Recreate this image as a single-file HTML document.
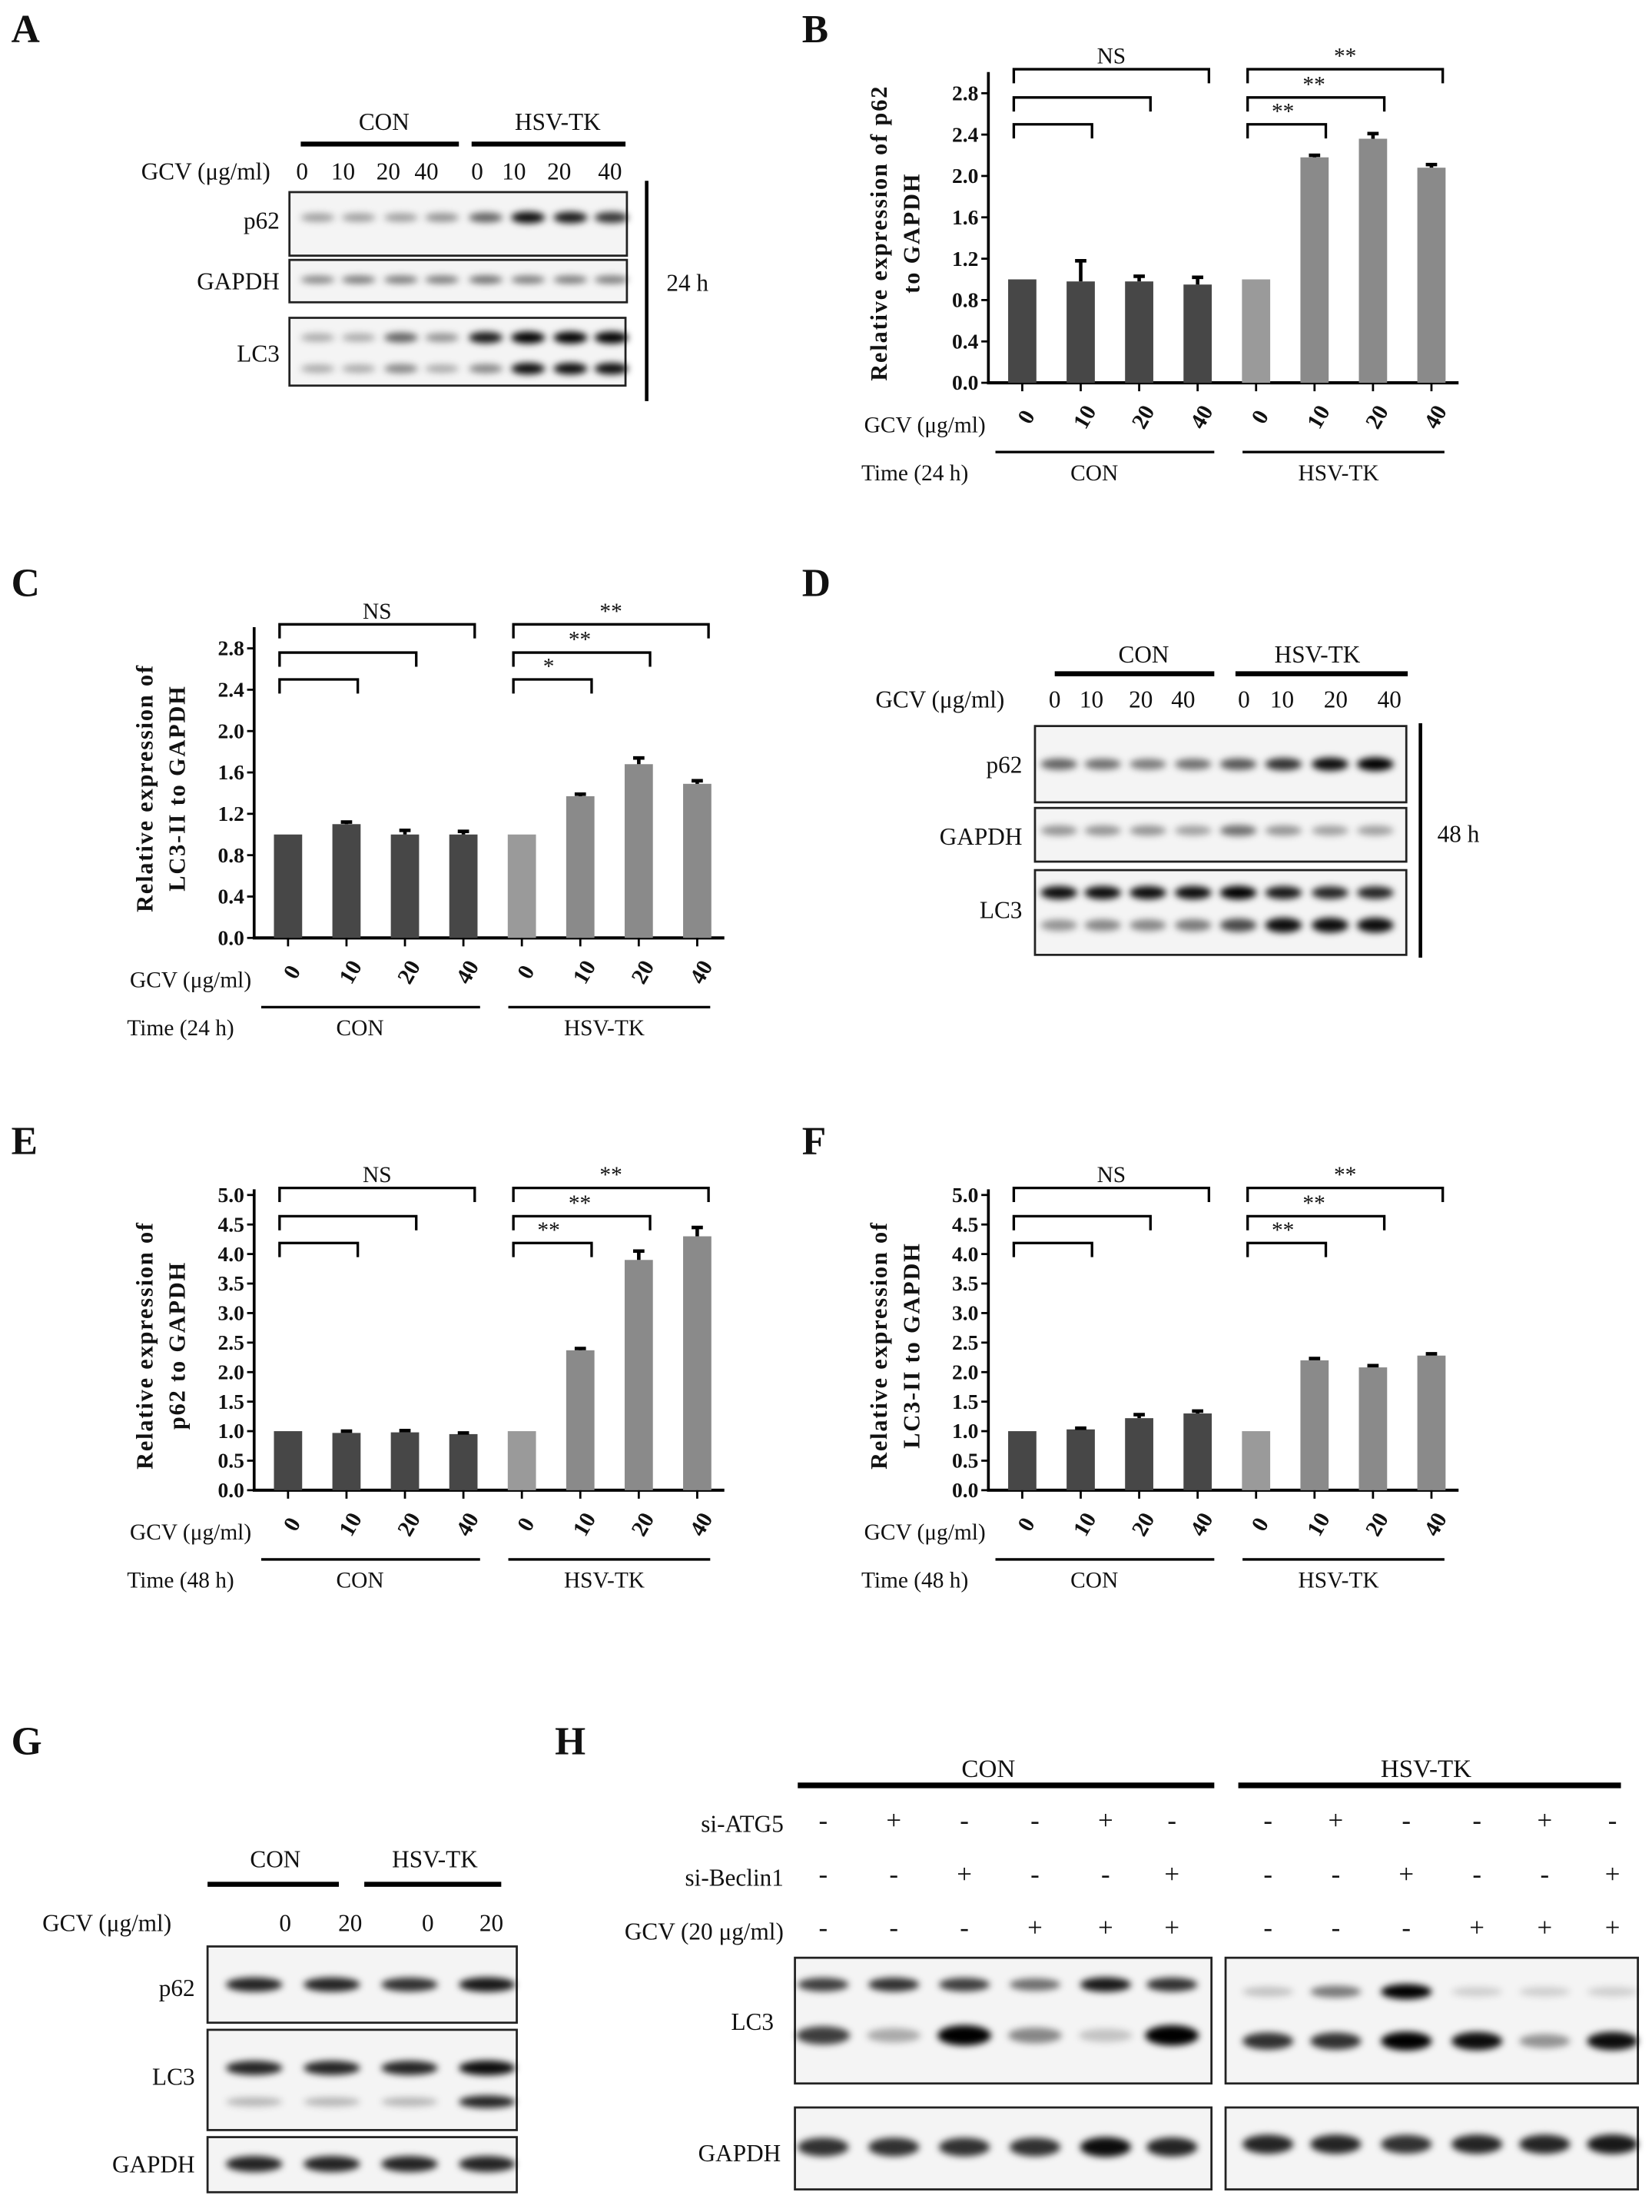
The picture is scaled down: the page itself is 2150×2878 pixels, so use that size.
<!DOCTYPE html>
<html><head><meta charset="utf-8">
<style>
html,body{margin:0;padding:0;background:#fff;}
svg{display:block;}
text{font-family:"Liberation Serif",serif;fill:#111;}
</style></head>
<body>
<svg id="fig" xmlns="http://www.w3.org/2000/svg" width="2150" height="2878" viewBox="0 0 1170 1566" preserveAspectRatio="none">
<defs>
<filter id="blur" x="-50%" y="-100%" width="200%" height="300%"><feGaussianBlur stdDeviation="2.4"/></filter>
</defs>
<g id="static">
<text x="8" y="30" font-size="28" font-weight="bold">A</text>
<text x="568" y="30" font-size="28" font-weight="bold">B</text>
<text x="8" y="422" font-size="28" font-weight="bold">C</text>
<text x="568" y="422" font-size="28" font-weight="bold">D</text>
<text x="8" y="817" font-size="28" font-weight="bold">E</text>
<text x="568" y="817" font-size="28" font-weight="bold">F</text>
<text x="8" y="1242" font-size="28" font-weight="bold">G</text>
<text x="393" y="1242" font-size="28" font-weight="bold">H</text>
</g>
</svg>
<script>
// ---------- chart data ----------
const groupCategories = ["0","10","20","40","0","10","20","40"];
const yTicksB = [0.0,0.4,0.8,1.2,1.6,2.0,2.4,2.8];
const yTicksE = [0.0,0.5,1.0,1.5,2.0,2.5,3.0,3.5,4.0,4.5,5.0];
const bValues = [1.0,0.98,0.98,0.95,1.0,2.18,2.36,2.08];
const bErrors = [0,0.2,0.05,0.07,0,0.02,0.05,0.03];
const cValues = [1.0,1.1,1.0,1.0,1.0,1.37,1.68,1.49];
const cErrors = [0,0.02,0.04,0.03,0,0.02,0.06,0.03];
const eValues = [1.0,0.97,0.98,0.95,1.0,2.37,3.9,4.3];
const eErrors = [0,0.03,0.03,0.02,0,0.03,0.15,0.15];
const fValues = [1.0,1.03,1.22,1.3,1.0,2.2,2.08,2.28];
const fErrors = [0,0.02,0.06,0.04,0,0.03,0.03,0.03];
// [CON top, HSV top, HSV middle, HSV bottom]
const bSig = ["NS","**","**","**"];
const cSig = ["NS","**","**","*"];
const eSig = ["NS","**","**","**"];

const NS = "http://www.w3.org/2000/svg";
const svg = document.getElementById('fig');
function mk(tag, attrs, parent){
  const el = document.createElementNS(NS, tag);
  for (const k in attrs) el.setAttribute(k, attrs[k]);
  (parent||svg).appendChild(el);
  return el;
}
function txt(x,y,s,size,extra,parent){
  const t = mk('text', Object.assign({x:x,y:y,'font-size':size}, extra||{}), parent);
  t.textContent = s;
  return t;
}

function drawChart(cfg){
  const g = mk('g', {});
  
  
  const ax = cfg.ax, y0 = cfg.y0, top = cfg.top;
  const maxT = cfg.ticks[cfg.ticks.length-1];
  const yS = v => y0 - v/maxT*(y0-cfg.yMax);
  const xS = i => ax + 24 + i*41.4;
  const ya = mk('line',{x1:ax,y1:top,x2:ax,y2:y0,stroke:'#000','stroke-width':2},g);
  
  
  const xa = mk('line',{x1:ax-1,y1:y0,x2:ax+333,y2:y0,stroke:'#000','stroke-width':2.2},g);
  
  
  cfg.ticks.forEach(v=>{
    mk('line',{x1:ax-5,y1:yS(v),x2:ax,y2:yS(v),stroke:'#000','stroke-width':1.5},g);
    const t = txt(ax-7, yS(v)+5, v.toFixed(1), 15, {'text-anchor':'end','font-weight':'bold'}, g);
    
    
  });
  cfg.values.forEach((v,i)=>{
    const cx = xS(i);
    const color = i<4 ? '#474747' : (i===4 ? '#9a9a9a' : '#8a8a8a');
    const r = mk('rect',{x:cx-10,y:yS(v),width:20,height:y0-yS(v),fill:color},g);
    
    
    const e = cfg.errors[i];
    if (e>0){
      const eb = mk('path',{d:`M${cx} ${yS(v)} V${yS(v+e)} M${cx-4} ${yS(v+e)} H${cx+4}`,stroke:'#000','stroke-width':2.5,fill:'none'},g);
      
      
    }
    mk('line',{x1:cx,y1:y0,x2:cx,y2:y0+6,stroke:'#000','stroke-width':1.5},g);
    const lab = txt(cx+4, y0+31, groupCategories[i], 16, {'text-anchor':'middle','font-weight':'bold',transform:`rotate(-60 ${cx+2} ${y0+26})`}, g);
    
    
  });
  const levels = [cfg.br[0], cfg.br[1], cfg.br[2]]; // top, middle, bottom
  [0,4].forEach((start,gi)=>{
    [3,2,1].forEach((end,k)=>{
      const by = levels[k];
      const x1 = xS(start)-6, x2 = xS(start+end)+8;
      const b = mk('path',{d:`M${x1} ${by+10} V${by} H${x2} V${by+10}`,stroke:'#000','stroke-width':1.8,fill:'none'},g);
      
      
      const lab = gi===0 ? (k===0 ? cfg.sig[0] : '') : cfg.sig[1+k];
      if (lab){
        const lx = k===0 ? (x1+x2)/2 : (k===1 ? x1+47 : x1+25);
        const st = txt(lx, by-4, lab, 16, {'text-anchor':'middle'}, g);
        
        
      }
    });
  });
  const gl = txt(ax-88, y0+35, 'GCV (μg/ml)', 16, {}, g);
  
  
  mk('line',{x1:ax+5,y1:y0+49,x2:ax+160,y2:y0+49,stroke:'#000','stroke-width':1.8},g);
  mk('line',{x1:ax+180,y1:y0+49,x2:ax+323,y2:y0+49,stroke:'#000','stroke-width':1.8},g);
  const tl = txt(ax-90, y0+69, cfg.time, 16, {}, g);
  
  
  const cl = txt(ax+75, y0+69, 'CON', 16, {'text-anchor':'middle'}, g);
  
  
  const hl = txt(ax+248, y0+69, 'HSV-TK', 16, {'text-anchor':'middle'}, g);
  
  
  const yc = (top+y0)/2 + 4;
  const t1 = txt(ax-72, yc, cfg.title[0], 16.5, {'text-anchor':'middle','font-weight':'bold','letter-spacing':'1',transform:`rotate(-90 ${ax-72} ${yc})`}, g);
  
  
  const t2 = txt(ax-49, yc, cfg.title[1], 16.5, {'text-anchor':'middle','font-weight':'bold','letter-spacing':'1',transform:`rotate(-90 ${ax-49} ${yc})`}, g);
  
  
}

drawChart({name:'chart-b-p62-24h',ax:700,y0:271,yMax:66,top:51,ticks:yTicksB,values:bValues,errors:bErrors,sig:bSig,br:[49,69,88],time:'Time (24 h)',title:['Relative expression of p62','to GAPDH']});
drawChart({name:'chart-c-lc3-24h',ax:180,y0:664,yMax:459,top:444,ticks:yTicksB,values:cValues,errors:cErrors,sig:cSig,br:[442,462,481],time:'Time (24 h)',title:['Relative expression of','LC3-II  to GAPDH']});
drawChart({name:'chart-e-p62-48h',ax:180,y0:1055,yMax:846,top:842,ticks:yTicksE,values:eValues,errors:eErrors,sig:eSig,br:[841,861,880],time:'Time (48 h)',title:['Relative expression of','p62  to GAPDH']});
drawChart({name:'chart-f-lc3-48h',ax:700,y0:1055,yMax:846,top:842,ticks:yTicksE,values:fValues,errors:fErrors,sig:eSig,br:[841,861,880],time:'Time (48 h)',title:['Relative expression of','LC3-II  to GAPDH']});

// ---------- blots ----------
function box(x,y,w,h,name){
  const r = mk('rect',{x:x,y:y,width:w,height:h,fill:'#f4f4f4',stroke:'#222','stroke-width':1.5});
  
  
}
function bands(xs,y,intens,w,h,name){
  const g = mk('g',{filter:'url(#blur)'});
  
  
  xs.forEach((x,i)=>{
    const a = intens[i];
    if (a<=0) return;
    mk('ellipse',{cx:x,cy:y,rx:w/2,ry:h/2*(0.7+0.5*a),fill:'#000','fill-opacity':Math.min(1,a)},g);
  });
}
function label(x,y,s,size,name,anchor){
  const t = txt(x,y,s,size||16,{'text-anchor':anchor||'start'});
  
  
}
function bar(x1,x2,y,name,wd){
  const l = mk('line',{x1:x1,y1:y,x2:x2,y2:y,stroke:'#000','stroke-width':wd||3.5});
  
  
}

// Panel A
const laneA = [225,254,284,313,344,374,404,433];
label(272,92,'CON',17,'a-con-label','middle'); label(395,92,'HSV-TK',17,'a-hsvtk-label','middle');
bar(213,325,102,'a-con-line'); bar(334,443,102,'a-hsvtk-line');
label(100,127,'GCV (μg/ml)',17,'a-gcv-label');
['0','10','20','40','0','10','20','40'].forEach((s,i)=>label([214,243,275,302,338,364,396,432][i],127,s,17,'a-dose-label','middle'));
box(205,136,239,45,'a-p62-blot'); box(205,184,239,30,'a-gapdh-blot'); box(205,225,238,48,'a-lc3-blot');
bands(laneA,154,[0.35,0.35,0.35,0.4,0.6,0.95,0.9,0.8],24,7,'a-p62-bands');
bands(laneA,198,[0.45,0.5,0.5,0.5,0.55,0.5,0.5,0.5],24,6,'a-gapdh-bands');
bands(laneA,239,[0.3,0.3,0.6,0.4,0.9,1,1,1],24,7,'a-lc3-upper');
bands(laneA,261,[0.3,0.3,0.45,0.3,0.45,0.95,0.95,0.95],24,7,'a-lc3-lower');
label(198,162,'p62',17,'a-p62-label','end'); label(198,205,'GAPDH',17,'a-gapdh-label','end'); label(198,256,'LC3',17,'a-lc3-label','end');
mk('line',{x1:458,y1:128,x2:458,y2:284,stroke:'#000','stroke-width':2.5});
label(472,206,'24 h',17,'a-time-label');

// Panel D
const laneD = [750,781,813,845,877,909,942,974];
label(810,469,'CON',17,'d-con-label','middle'); label(933,469,'HSV-TK',17,'d-hsvtk-label','middle');
bar(747,860,477,'d-con-line'); bar(875,997,477,'d-hsvtk-line');
label(620,501,'GCV (μg/ml)',17,'d-gcv-label');
['0','10','20','40','0','10','20','40'].forEach((s,i)=>label([747,773,808,838,881,908,946,984][i],501,s,17,'d-dose-label','middle'));
box(733,514,263,54,'d-p62-blot'); box(733,572,263,38,'d-gapdh-blot'); box(733,616,263,60,'d-lc3-blot');
bands(laneD,541,[0.6,0.55,0.5,0.55,0.65,0.8,0.95,1],26,8,'d-p62-bands');
bands(laneD,588,[0.4,0.4,0.4,0.35,0.55,0.4,0.35,0.35],26,8,'d-gapdh-bands');
bands(laneD,632,[0.95,0.95,0.95,0.95,1,0.9,0.85,0.85],26,8,'d-lc3-upper');
bands(laneD,655,[0.4,0.45,0.45,0.5,0.7,0.95,0.95,0.95],26,9,'d-lc3-lower');
label(724,547,'p62',17,'d-p62-label','end'); label(724,598,'GAPDH',17,'d-gapdh-label','end'); label(724,650,'LC3',17,'d-lc3-label','end');
mk('line',{x1:1006,y1:512,x2:1006,y2:678,stroke:'#000','stroke-width':2.5});
label(1018,596,'48 h',17,'d-time-label');

// Panel G
const laneG = [180,235,290,345];
label(195,1322,'CON',17,'g-con-label','middle'); label(308,1322,'HSV-TK',17,'g-hsvtk-label','middle');
bar(147,240,1334,'g-con-line'); bar(258,355,1334,'g-hsvtk-line');
label(30,1367,'GCV (μg/ml)',17,'g-gcv-label');
['0','20','0','20'].forEach((s,i)=>label([202,248,303,348][i],1367,s,17,'g-dose-label','middle'));
box(147,1378,219,54,'g-p62-blot'); box(147,1437,219,71,'g-lc3-blot'); box(147,1513,219,39,'g-gapdh-blot');
bands(laneG,1405,[0.85,0.85,0.8,0.9],40,9,'g-p62-bands');
bands(laneG,1464,[0.85,0.85,0.85,0.95],40,9,'g-lc3-upper');
bands(laneG,1488,[0.25,0.25,0.25,0.85],40,8,'g-lc3-lower');
bands(laneG,1532,[0.85,0.85,0.85,0.85],40,10,'g-gapdh-bands');
label(138,1413,'p62',17,'g-p62-label','end'); label(138,1476,'LC3',17,'g-lc3-label','end'); label(138,1538,'GAPDH',17,'g-gapdh-label','end');

// Panel H
const colsCon = [583,633,683,733,783,830];
const colsHsv = [898,946,996,1046,1094,1142];
label(700,1258,'CON',18,'h-con-label','middle'); label(1010,1258,'HSV-TK',18,'h-hsvtk-label','middle');
bar(565,860,1264,'h-con-line',4); bar(877,1148,1264,'h-hsvtk-line',4);
label(555,1297,'si-ATG5',17,'h-siatg5-label','end');
label(555,1335,'si-Beclin1',17,'h-sibeclin1-label','end');
label(555,1373,'GCV (20 μg/ml)',17,'h-gcv-label','end');
const rowsH = [["-","+","-","-","+","-"],["-","-","+","-","-","+"],["-","-","-","+","+","+"]];
rowsH.forEach((row,r)=>{
  [colsCon,colsHsv].forEach(cols=>{
    row.forEach((s,i)=>label(cols[i],1295+r*38,s,19,'h-sign','middle'));
  });
});
box(563,1386,295,89,'h-con-lc3-blot'); box(868,1386,292,89,'h-hsvtk-lc3-blot');
box(563,1492,295,58,'h-con-gapdh-blot'); box(868,1492,292,58,'h-hsvtk-gapdh-blot');
bands(colsCon,1405,[0.75,0.8,0.75,0.55,0.9,0.8],36,9,'h-con-lc3-upper');
bands(colsCon,1441,[0.75,0.3,1,0.45,0.2,1],38,12,'h-con-lc3-lower');
bands(colsHsv,1410,[0.2,0.5,1,0.15,0.15,0.15],36,9,'h-hsvtk-lc3-upper');
bands(colsHsv,1445,[0.8,0.8,1,0.95,0.4,0.95],36,11,'h-hsvtk-lc3-lower');
bands(colsCon,1520,[0.8,0.8,0.8,0.8,0.95,0.85],36,12,'h-con-gapdh');
bands(colsHsv,1518,[0.85,0.85,0.8,0.85,0.85,0.9],36,12,'h-hsvtk-gapdh');
label(548,1437,'LC3',17,'h-lc3-label','end'); label(553,1530,'GAPDH',17,'h-gapdh-label','end');
</script>
</body></html>
